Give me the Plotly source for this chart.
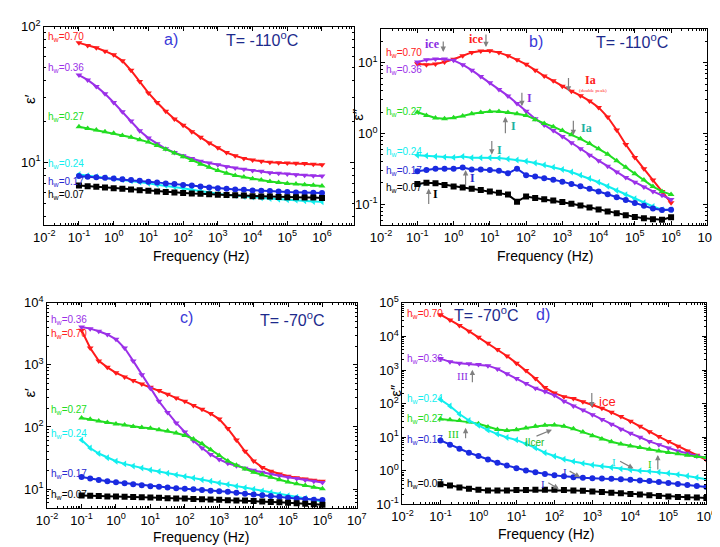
import plotly.graph_objects as go

# ---------------- data ----------------
freq = [0.1, 0.178, 0.316, 0.562, 1, 1.78, 3.16, 5.62, 10, 17.8, 31.6, 56.2, 100,
        178, 316, 562, 1000, 1780, 3160, 5620, 1e4, 1.78e4, 3.16e4, 5.62e4, 1e5,
        1.78e5, 3.16e5, 5.62e5, 1e6]
hw_labels = ["0.70", "0.36", "0.27", "0.24", "0.17", "0.07"]

# panel a: eps' at -110 C
a_070 = [76, 72.8, 70, 66, 62, 56, 47.7, 39.4, 32.5, 27.6, 23.8, 20.9, 18.8, 16.8, 15.3, 13.9, 12.8, 11.8, 11.2, 10.7, 10.4, 10.2, 10.0, 9.95, 9.9, 9.85, 9.8, 9.7, 9.6]
a_036 = [44, 40.5, 36.3, 32, 27.6, 23.6, 20.2, 17.1, 15.1, 13.7, 12.6, 11.8, 11.2, 10.7, 10.2, 9.9, 9.6, 9.3, 9.1, 8.9, 8.7, 8.6, 8.4, 8.3, 8.2, 8.1, 8.04, 7.98, 7.94]
a_027 = [18.3, 17.8, 17.3, 16.8, 16.4, 15.8, 15.3, 14.7, 14.1, 13.3, 12.5, 11.7, 11.0, 10.3, 9.7, 9.2, 8.7, 8.3, 8.0, 7.8, 7.56, 7.4, 7.24, 7.1, 7.0, 6.92, 6.85, 6.78, 6.7]
a_024 = [8.13, 7.98, 7.85, 7.72, 7.6, 7.48, 7.31, 7.16, 7.0, 6.85, 6.74, 6.6, 6.45, 6.28, 6.14, 5.97, 5.85, 5.75, 5.69, 5.6, 5.54, 5.47, 5.41, 5.35, 5.3, 5.27, 5.21, 5.15, 5.13]
a_017 = [7.94, 7.85, 7.77, 7.69, 7.6, 7.52, 7.4, 7.31, 7.2, 7.12, 7.0, 6.93, 6.81, 6.74, 6.63, 6.52, 6.45, 6.38, 6.31, 6.28, 6.2, 6.17, 6.14, 6.11, 6.04, 6.0, 5.97, 5.97, 5.94]
a_007 = [6.74, 6.67, 6.6, 6.52, 6.45, 6.38, 6.31, 6.24, 6.17, 6.11, 6.04, 6.0, 5.94, 5.9, 5.87, 5.81, 5.78, 5.75, 5.72, 5.69, 5.62, 5.6, 5.6, 5.56, 5.54, 5.54, 5.5, 5.5, 5.47]

# panel b: eps'' at -110 C
b_070 = [9.7, 9.4, 9.6, 10.2, 11.2, 12.6, 14.0, 14.6, 14.8, 13.9, 12.6, 11.0, 9.5, 7.85, 6.5, 5.55, 4.64, 3.96, 3.42, 2.89, 2.34, 1.71, 1.12, 0.70, 0.46, 0.318, 0.22, 0.152, 0.105]
b_036 = [10.2, 11.0, 11.3, 11.3, 10.8, 9.4, 7.85, 6.4, 5.2, 4.2, 3.4, 2.66, 2.07, 1.62, 1.32, 1.1, 0.91, 0.74, 0.61, 0.494, 0.413, 0.346, 0.286, 0.239, 0.205, 0.175, 0.152, 0.134, 0.117]
b_027 = [2.0, 1.80, 1.66, 1.62, 1.67, 1.77, 1.90, 1.98, 2.05, 2.05, 1.98, 1.90, 1.80, 1.57, 1.39, 1.25, 1.10, 0.96, 0.84, 0.72, 0.61, 0.51, 0.413, 0.335, 0.271, 0.22, 0.178, 0.152, 0.137]
b_024 = [0.494, 0.484, 0.474, 0.464, 0.46, 0.474, 0.455, 0.455, 0.455, 0.45, 0.436, 0.422, 0.405, 0.384, 0.36, 0.335, 0.311, 0.286, 0.258, 0.232, 0.205, 0.18, 0.157, 0.137, 0.12, 0.105, 0.093, 0.084, 0.084]
b_017 = [0.292, 0.305, 0.318, 0.318, 0.318, 0.332, 0.311, 0.311, 0.305, 0.298, 0.274, 0.318, 0.258, 0.247, 0.234, 0.222, 0.209, 0.194, 0.18, 0.166, 0.152, 0.139, 0.126, 0.115, 0.104, 0.095, 0.087, 0.083, 0.084]
b_007 = [0.194, 0.202, 0.198, 0.188, 0.178, 0.173, 0.166, 0.159, 0.152, 0.146, 0.137, 0.109, 0.129, 0.123, 0.118, 0.113, 0.108, 0.102, 0.096, 0.09, 0.0845, 0.079, 0.0745, 0.07, 0.0664, 0.0637, 0.0617, 0.0604, 0.0656]

# panel c: eps' at -70 C
c_070 = [3610, 1870, 1160, 912, 745, 637, 559, 490, 435, 385, 337, 292, 259, 222, 192, 164, 134, 94, 61.7, 40.6, 28.3, 22.3, 19.3, 17.5, 16.1, 15.2, 14.5, 13.8, 13.3]
c_036 = [4070, 3840, 3490, 3090, 2580, 1870, 1160, 692, 419, 259, 171, 116, 83, 60, 45.7, 36, 30, 26, 23.7, 21.5, 20, 18.6, 17.3, 16.3, 15.4, 14.7, 14, 13.3, 12.7]
c_027 = [139, 133, 125, 118, 112, 107, 102, 98, 95, 90, 86, 80, 73, 64, 53.5, 43, 34.7, 28.3, 24.2, 21, 18.6, 16.9, 15.4, 14.1, 13, 12.1, 11.4, 10.7, 10.1]
c_024 = [61.7, 45.7, 37.3, 31.9, 28, 25.4, 23.4, 21.8, 20.2, 19.1, 17.9, 16.9, 15.9, 15, 14.1, 13.3, 12.5, 11.8, 11.1, 10.5, 9.9, 9.3, 8.8, 8.2, 7.8, 7.4, 7.1, 6.7, 6.3]
c_017 = [15.6, 14.7, 14, 13.3, 12.8, 12.4, 11.9, 11.5, 11.1, 10.9, 10.6, 10.3, 10.1, 9.9, 9.6, 9.4, 9.2, 9.0, 8.7, 8.4, 8.15, 7.96, 7.7, 7.5, 7.2, 7.06, 6.9, 6.7, 6.65]
c_007 = [7.85, 7.8, 7.7, 7.6, 7.55, 7.5, 7.4, 7.35, 7.3, 7.2, 7.1, 7.05, 7.0, 6.9, 6.85, 6.8, 6.7, 6.6, 6.55, 6.5, 6.4, 6.3, 6.2, 6.1, 6.0, 5.9, 5.8, 5.7, 5.6]

# panel d: eps'' at -70 C
d_070 = [44200, 31000, 21300, 14300, 9400, 6300, 4050, 2610, 1600, 966, 556, 299, 206, 161, 141, 113, 91, 73, 55, 41, 30, 21, 14.5, 10.4, 7.5, 5.4, 3.85, 2.9, 2.12]
d_036 = [2190, 1750, 1600, 1530, 1470, 1350, 1080, 774, 556, 399, 286, 230, 176, 118, 85, 64, 46.8, 33.6, 24.1, 17.3, 13, 9.95, 7.5, 6, 4.8, 3.9, 3.3, 2.76, 2.42]
d_027 = [35, 32.8, 31.4, 28.1, 25.2, 20.2, 16.9, 15.8, 16.6, 18.9, 21.1, 22.5, 23.1, 21.1, 17.7, 14.2, 11.1, 8.9, 7.3, 6.3, 5.5, 4.9, 4.4, 3.9, 3.5, 3.2, 2.89, 2.64, 2.47]
d_024 = [132, 85, 49, 31.4, 22.5, 16.2, 12.4, 9.8, 8.3, 6.4, 4.8, 3.44, 2.7, 2.2, 1.9, 1.66, 1.49, 1.36, 1.25, 1.14, 1.07, 1.0, 0.96, 0.9, 0.84, 0.77, 0.70, 0.63, 0.56]
d_017 = [8.0, 6.0, 4.5, 3.44, 2.76, 2.17, 1.74, 1.43, 1.19, 1.02, 0.9, 0.8, 0.73, 0.69, 0.64, 0.62, 0.60, 0.59, 0.575, 0.56, 0.54, 0.515, 0.493, 0.461, 0.432, 0.404, 0.378, 0.354, 0.331]
d_007 = [0.40, 0.362, 0.317, 0.29, 0.272, 0.26, 0.26, 0.26, 0.266, 0.266, 0.272, 0.272, 0.272, 0.266, 0.26, 0.254, 0.243, 0.233, 0.223, 0.213, 0.204, 0.195, 0.187, 0.178, 0.171, 0.167, 0.163, 0.16, 0.156]

# ---------------- styling ----------------
W, H = 720, 547
COLORS = ["#ff1a1a", "#9b30e8", "#22dd22", "#11eeee", "#1a2ae0", "#000000"]
LABEL_COLORS = ["#ff2020", "#9b30e8", "#22dd22", "#11eeee", "#2a2ad0", "#000000"]
SYMBOLS = ["triangle-down", "triangle-down", "triangle-up", "triangle-left", "circle", "square"]
SANS = "Liberation Sans, Arial, sans-serif"
SERIF = "Liberation Serif, Times New Roman, serif"


def px(x):
    return x / W


def py(y):
    return 1 - y / H


fig = go.Figure()

panels = [
    dict(key="", series=[a_070, a_036, a_027, a_024, a_017, a_007]),
    dict(key="2", series=[b_070, b_036, b_027, b_024, b_017, b_007]),
    dict(key="3", series=[c_070, c_036, c_027, c_024, c_017, c_007]),
    dict(key="4", series=[d_070, d_036, d_027, d_024, d_017, d_007]),
]
for p in panels:
    for i, ys in enumerate(p["series"]):
        fig.add_trace(go.Scatter(
            x=freq, y=ys, mode="lines+markers", xaxis="x" + p["key"], yaxis="y" + p["key"],
            line=dict(color=COLORS[i], width=2),
            marker=dict(symbol=SYMBOLS[i], size=6, color=COLORS[i]),
            showlegend=False, hoverinfo="skip"))


def minor_vals(lo, hi):
    return [m * 10 ** e for e in range(lo, hi) for m in range(2, 10)]


def log_axis(rng, exps, domain, anchor, minor_lo, minor_hi):
    return dict(
        type="log", range=rng, domain=domain, anchor=anchor,
        tickmode="array", tickvals=[10 ** e for e in exps],
        ticktext=["10<sup>%d</sup>" % e for e in exps],
        ticks="inside", ticklen=4, tickwidth=1, tickcolor="black",
        minor=dict(ticks="inside", ticklen=2, tickwidth=1, tickcolor="black",
                   tickmode="array", tickvals=minor_vals(minor_lo, minor_hi), showgrid=False),
        showline=True, linecolor="black", linewidth=1, mirror="allticks",
        showgrid=False, zeroline=False,
        tickfont=dict(family=SANS, size=13, color="black"))


layout = dict(
    width=W, height=H, margin=dict(l=0, r=0, t=0, b=0),
    paper_bgcolor="white", plot_bgcolor="white", showlegend=False,
    xaxis=log_axis([-2, 6.92], list(range(-2, 7)), [px(26), px(345)], "y", -2, 7),
    yaxis=log_axis([0.536, 2.0], [1, 2], [py(215), py(10)], "x", 0, 2),
    xaxis2=log_axis([-2, 7], list(range(-2, 8)), [px(373), px(709)], "y2", -2, 7),
    yaxis2=log_axis([-1.297, 1.475], [-1, 0, 1], [py(215), py(12.5)], "x2", -2, 2),
    xaxis3=log_axis([-2, 7], list(range(-2, 8)), [px(29), px(348)], "y3", -2, 7),
    yaxis3=log_axis([0.69, 4.0], [1, 2, 3, 4], [py(507), py(295)], "x3", 0, 4),
    xaxis4=log_axis([-2, 6], list(range(-2, 7)), [px(395), px(708)], "y4", -2, 6),
    yaxis4=log_axis([-1, 5], list(range(-1, 6)), [py(503), py(295)], "x4", -1, 5),
)
fig.update_layout(**layout)

ann = []


def text(x, y, s, color="black", size=10, family=SANS, xanchor="center", angle=0):
    ann.append(dict(x=px(x), y=py(y), xref="paper", yref="paper", text=s, showarrow=False,
                    xanchor=xanchor, yanchor="middle", textangle=angle,
                    font=dict(family=family, size=size, color=color)))


def arrow(x0, y0, x1, y1, color="#808080"):
    # tail (x0,y0) -> head (x1,y1), pixel coordinates
    ann.append(dict(x=px(x1), y=py(y1), xref="paper", yref="paper", text="",
                    showarrow=True, ax=x0 - x1, ay=y0 - y1, axref="pixel", ayref="pixel",
                    arrowhead=2, arrowsize=0.9, arrowwidth=1.2, arrowcolor=color, standoff=0))


def hw(s):
    return "h<sub>w</sub>=" + s


label_pos = {
    "a": (28, [21, 53, 103, 152, 170, 184]),
    "b": (376, [37, 55, 98, 139, 159, 177]),
    "c": (31, [327, 313, 406, 430, 472, 493]),
    "d": (398, [307, 353, 415, 394, 437, 482]),
}
for key, (lx, ys) in label_pos.items():
    for i, yy in enumerate(ys):
        text(lx, yy, hw(hw_labels[i]), color=LABEL_COLORS[i], size=10, xanchor="left")

# panel titles
NAVY = "#1c2a8c"
LET = "#3a3ad8"
text(157, 23, "a)", LET, 16)
text(250, 23, "T= -110<sup>o</sup>C", NAVY, 16)
text(533, 25, "b)", LET, 16)
text(631, 25, "T= -110<sup>o</sup>C", NAVY, 16)
text(173, 310, "c)", LET, 16)
text(281, 312, "T= -70<sup>o</sup>C", NAVY, 16)
text(540, 307, "d)", LET, 16)
text(481, 307, "T= -70<sup>o</sup>C", NAVY, 16)

# axis titles
for (x, y, s) in [(11, 85, "ε′"), (349, 100, "ε″"), (11, 388, "ε′"), (387, 385, "ε″")]:
    text(x, y, s, "black", 15, SANS, angle=-90)
for (x, y) in [(187, 247), (542, 247), (187, 537), (543, 534)]:
    text(x, y, "Frequency (Hz)", "black", 14)

# panel b annotations
TEAL = "#20b0a0"
text(426, 28, "<b>ice</b>", "#8a2be2", 12, SERIF)
arrow(437, 24, 437, 36)
text(471, 23, "<b>ice</b>", "#ff2020", 12, SERIF)
arrow(481, 17, 481, 31)
text(589, 65, "<b>Ia</b>", "#ff2020", 12, SERIF)
text(591, 76, "(double peak)", "#ff2020", 5, SERIF)
arrow(566, 62, 566, 77)
text(526, 84, "<b>I</b>", "#8a2be2", 12, SERIF)
arrow(518, 77, 518, 92)
text(509, 113, "<b>I</b>", TEAL, 12, SERIF)
arrow(501, 121, 501, 103)
text(585, 115, "<b>Ia</b>", TEAL, 12, SERIF)
arrow(571, 106, 571, 122)
text(495, 137, "<b>I</b>", TEAL, 12, SERIF)
arrow(487, 127, 487, 142)
text(467, 166, "<b>I</b>", "#2a2ad0", 12, SERIF)
arrow(460, 175, 460, 158)
text(429, 183, "<b>I</b>", "#000000", 12, SERIF)
arrow(422, 194, 422, 177)

# panel d annotations
text(457, 370, "III", "#8a2be2", 11, SERIF)
arrow(467, 378, 467, 364)
text(606, 397, "ice", "#ff2020", 13, SANS)
arrow(590, 387, 590, 403)
text(448, 430, "III", "#22cc22", 11, SERIF)
arrow(460, 436, 460, 424)
text(532, 439, "IIcer", "#22bb22", 10, SANS)
arrow(532, 433, 549, 426)
text(613, 459, "I", "#11dddd", 11, SERIF)
arrow(618, 458, 633, 466)
text(650, 461, "I", "#22cc22", 11, SERIF)
arrow(658, 468, 658, 452)
text(562, 470, "I", "#2a2ad0", 11, SERIF)
arrow(566, 468, 578, 475)
text(540, 482, "I", "#2a2ad0", 11, SERIF)
arrow(544, 480, 556, 487)

fig.update_layout(annotations=ann)
fig.write_html("out.html")
